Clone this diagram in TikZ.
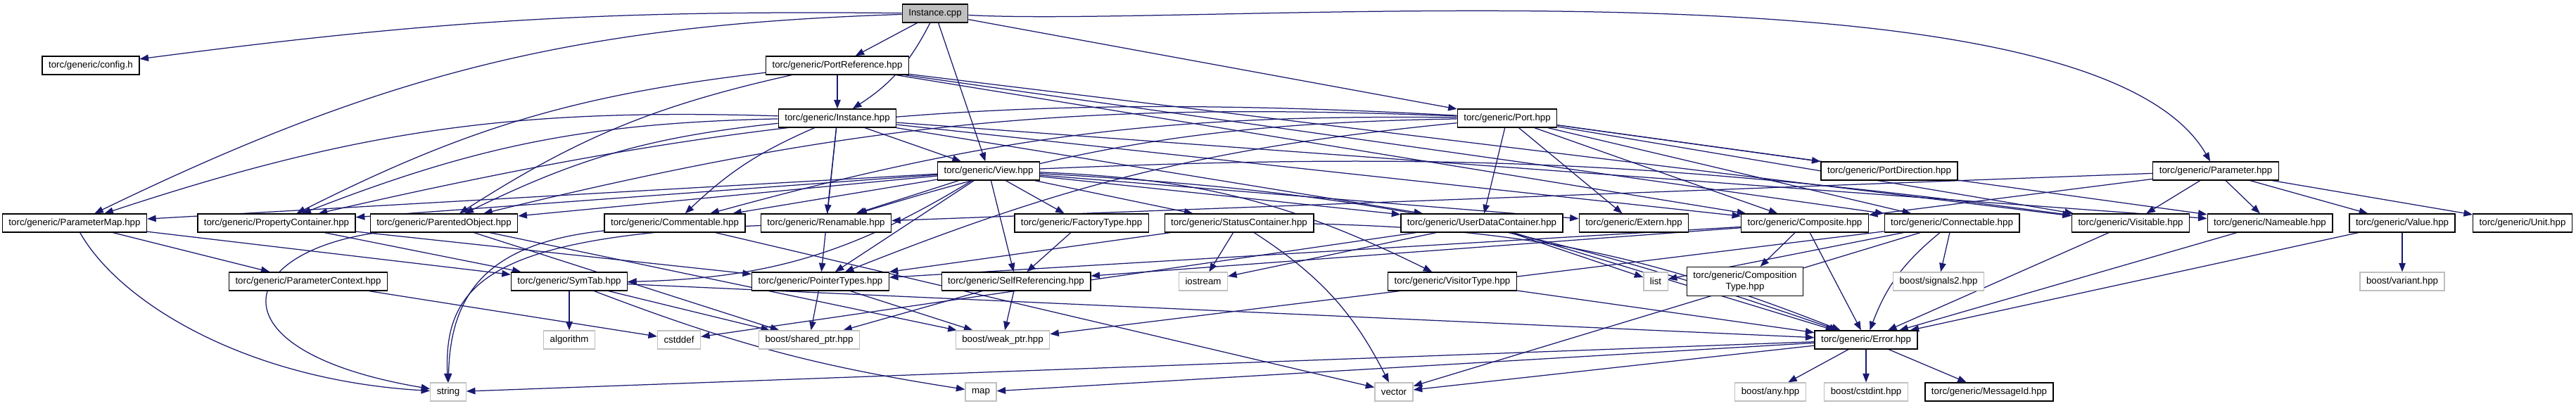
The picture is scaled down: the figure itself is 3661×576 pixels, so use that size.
\documentclass[tikz,border=0pt]{standalone}
\usepackage{fontspec}
\setmainfont{Liberation Sans}
\usepackage{xcolor}
\usepackage{tikz}
\usetikzlibrary{arrows.meta, positioning, backgrounds}
\definecolor{edgeblue}{HTML}{191970}
\definecolor{sysgrey}{HTML}{BFBFBF}

\begin{document}
\begin{tikzpicture}[
    x=0.2pt, y=-0.2pt,
    hdr/.style={rectangle, draw=black, fill=white, line width=0.26pt,
                minimum height=5.2pt, inner xsep=1.8pt, inner ysep=0.4pt,
                font=\fontsize{2.66}{3.1}\selectfont},
    syshdr/.style={hdr, draw=sysgrey},
    srcfile/.style={hdr, fill=sysgrey},
    dep/.style={-{Triangle[length=2.5pt, width=1.9pt]}, line width=0.25pt, draw=edgeblue},
]
\useasboundingbox (0,0) rectangle (3661,576);

%% Instance.cpp and the first headers
\node[srcfile] (icpp)    at (1329,19)  {Instance.cpp};
\node[hdr]     (config)  at (129,93)   {torc/generic/config.h};
\node[hdr]     (pref)    at (1190,93)  {torc/generic/PortReference.hpp};
\node[hdr]     (ihpp)    at (1190,168) {torc/generic/Instance.hpp};
\node[hdr]     (port)    at (2142,168) {torc/generic/Port.hpp};
\node[hdr]     (view)    at (1405,243) {torc/generic/View.hpp};
\node[hdr]     (portdir) at (2685,243) {torc/generic/PortDirection.hpp};
\node[hdr]     (param)   at (3149,243) {torc/generic/Parameter.hpp};

%% Base classes
\node[hdr] (pmap)      at (106,317)  {torc/generic/ParameterMap.hpp};
\node[hdr] (propc)     at (393,317)  {torc/generic/PropertyContainer.hpp};
\node[hdr] (parent)    at (631,317)  {torc/generic/ParentedObject.hpp};
\node[hdr] (comment)   at (959,317)  {torc/generic/Commentable.hpp};
\node[hdr] (renam)     at (1174,317) {torc/generic/Renamable.hpp};
\node[hdr] (factory)   at (1537,317) {torc/generic/FactoryType.hpp};
\node[hdr] (status)    at (1761,317) {torc/generic/StatusContainer.hpp};
\node[hdr] (udc)       at (2106,317) {torc/generic/UserDataContainer.hpp};
\node[hdr] (extern)    at (2322,317) {torc/generic/Extern.hpp};
\node[hdr] (composite) at (2565,317) {torc/generic/Composite.hpp};
\node[hdr] (connect)   at (2774,317) {torc/generic/Connectable.hpp};
\node[hdr] (visitable) at (3028,317) {torc/generic/Visitable.hpp};
\node[hdr] (nameable)  at (3226,317) {torc/generic/Nameable.hpp};
\node[hdr] (value)     at (3414,317) {torc/generic/Value.hpp};
\node[hdr] (unit)      at (3585,317) {torc/generic/Unit.hpp};

%% Helpers
\node[hdr]    (paramctx) at (438,400)  {torc/generic/ParameterContext.hpp};
\node[hdr]    (symtab)   at (809,400)  {torc/generic/SymTab.hpp};
\node[hdr]    (ptr)      at (1166,400) {torc/generic/PointerTypes.hpp};
\node[hdr]    (selfref)  at (1444,400) {torc/generic/SelfReferencing.hpp};
\node[syshdr] (iostream) at (1710,400) {iostream};
\node[hdr]    (visitor)  at (2064,400) {torc/generic/VisitorType.hpp};
\node[syshdr] (list)     at (2353,400) {list};
\node[hdr, align=center, minimum height=8.2pt] (comptype) at (2480,400) {torc/generic/Composition\\Type.hpp};
\node[syshdr] (signals)  at (2755,400) {boost/signals2.hpp};
\node[syshdr] (variant)  at (3414,400) {boost/variant.hpp};

\node[syshdr] (algorithm) at (809,483)  {algorithm};
\node[syshdr] (cstddef)   at (965,483)  {cstddef};
\node[syshdr] (shared)    at (1150,483) {boost/shared\_ptr.hpp};
\node[syshdr] (weak)      at (1425,483) {boost/weak\_ptr.hpp};
\node[hdr]    (error)     at (2652,483) {torc/generic/Error.hpp};

\node[syshdr] (string)    at (637,557)  {string};
\node[syshdr] (map)       at (1394,557) {map};
\node[syshdr] (vector)    at (1981,557) {vector};
\node[syshdr] (any)       at (2516,557) {boost/any.hpp};
\node[syshdr] (cstdint)   at (2652,557) {boost/cstdint.hpp};
\node[hdr]    (msgid)     at (2827,557) {torc/generic/MessageId.hpp};

%% Include edges (source/target/bend)
\begin{scope}[on background layer]
\foreach \from/\to/\b in {
    icpp/config/-4, icpp/pmap/-12, icpp/pref/0, icpp/ihpp/15, icpp/view/0,
    icpp/port/0,
    pref/ihpp/0, pref/propc/-10, pref/parent/-10, pref/composite/0,
    pref/connect/0, pref/visitable/0,
    ihpp/view/0, ihpp/pmap/-10, ihpp/propc/-10, ihpp/parent/-10, ihpp/comment/-10,
    ihpp/renam/0, ihpp/ptr/0, ihpp/udc/0, ihpp/nameable/0, ihpp/composite/0,
    port/propc/-8, port/parent/-8, port/comment/-8, port/renam/-8, port/ptr/-8,
    port/udc/0, port/extern/0, port/composite/0, port/connect/0, port/portdir/0,
    port/visitable/0, port/nameable/0,
    view/pmap/0, view/propc/0, view/parent/0, view/comment/0, view/renam/0,
    view/factory/0, view/status/0, view/ptr/0, view/selfref/0, view/symtab/15,
    view/udc/0, view/extern/0, view/visitor/12, view/visitable/5, view/error/8,
    param/renam/0, param/composite/0, param/visitable/0, param/nameable/0,
    param/value/0, param/unit/0,
    pmap/paramctx/0, pmap/symtab/0, propc/symtab/0, propc/ptr/0,
    parent/shared/0, parent/weak/0, comment/vector/0,
    factory/selfref/0, status/ptr/0, status/iostream/0, status/vector/15, status/error/10,
    udc/list/0, udc/iostream/0, udc/cstddef/0, udc/error/0,
    composite/selfref/0, composite/ptr/0, composite/comptype/0, composite/error/0,
    connect/list/0, connect/vector/0, connect/signals/0, connect/error/-15, connect/weak/0,
    visitor/error/0, visitable/error/0, nameable/error/0, value/error/0, value/variant/0,
    ptr/shared/0, ptr/weak/0, selfref/shared/0, selfref/weak/0,
    symtab/algorithm/0, symtab/map/-6, symtab/shared/0, symtab/error/0,
    paramctx/cstddef/0,
    error/any/0, error/cstdint/0, error/msgid/0, error/map/0, error/string/0, error/vector/0}
    \draw[dep] (\from) to[bend left=\b] (\to);

%% Long sweep over to Parameter.hpp
\draw[dep] (icpp) to[out=-3, in=120, looseness=0.5] (param);

%% Long loops down to string
\draw[dep] (pmap) .. controls (170,430) and (350,540) .. (string);
\draw[dep] (parent) .. controls (330,360) and (300,500) .. (string);
\draw[dep] (comment) .. controls (700,345) and (640,410) .. (string);
\draw[dep] (renam) .. controls (700,335) and (630,400) .. (string);
\end{scope}

\end{tikzpicture}
\end{document}
